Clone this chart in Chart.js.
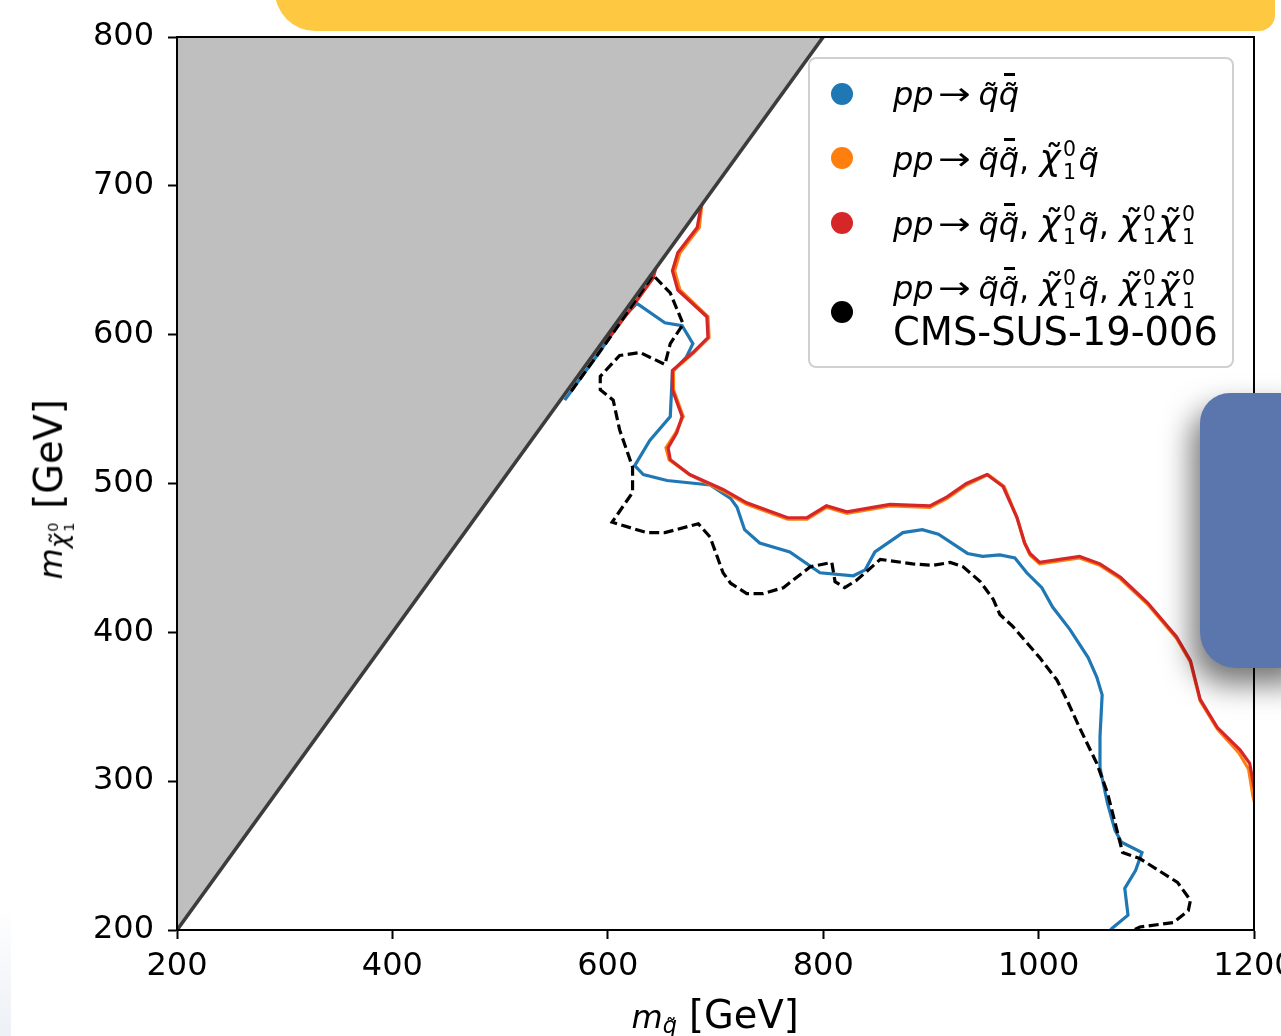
<!DOCTYPE html>
<html lang="en">
<head>
<meta charset="UTF-8">
<title>Squark / neutralino exclusion contours</title>
<script src="https://cdn.jsdelivr.net/npm/chart.js"></script>
<style>
    html, body { margin: 0; padding: 0; background: #fff; }
    body { width: 1281px; height: 1036px; overflow: hidden; position: relative; font-family: 'DejaVu Sans', sans-serif; }
    #wrap { position: absolute; left: 0; top: 0; width: 1320px; height: 1036px; }
    .m { position: absolute; font-family: 'DejaVu Sans'; font-size: 38.4px; line-height: 38px; white-space: nowrap; color: #000; }
    .mt { font-size: 32px; }
    .m i { font-style: italic; }
    .ar { display: inline-block; transform: scaleX(1.22); margin: 0 11px 0 7px; }
    .ac { position: relative; display: inline-block; }
    .ac .t { position: absolute; left: 0.13em; top: 0.06em; font-style: normal; }
    .ac .b { position: absolute; left: 0.16em; width: 0.36em; top: -0.04em; height: 0.09em; background: #000; }
    .ch { font-size: 1.12em; }
    .ch .t { left: 0.16em; top: 0.02em; }
    .ss { display: inline-block; position: relative; width: 0.56em; height: 0; }
    .ss .p, .ss .s { position: absolute; left: 0.12em; font-size: 0.64em; line-height: 1; font-style: normal; }
    .ss .p { bottom: 0.48em; }
    .ss .s { bottom: -0.64em; }
    .sb { font-size: 0.7em; vertical-align: -0.25em; }
    #legend { position: absolute; left: 808px; top: 57px; width: 422px; height: 307px; border: 2px solid #d0d0d0; border-radius: 8px; background: rgba(255,255,255,0.85); }
    .dot { position: absolute; width: 22px; height: 22px; border-radius: 50%; }
    #yellow { position: absolute; left: 275px; top: -40px; width: 1000px; height: 71px; background: #fec940; border-radius: 0 0 16px 40px; }
    #blob { position: absolute; left: 1200px; top: 393px; width: 110px; height: 275px; background: #5a76ad; border-radius: 30px 0 0 36px; box-shadow: -8px 16px 30px rgba(0,0,0,0.55); }
    #fade { position: absolute; left: 0; top: 905px; width: 11px; height: 131px; background: linear-gradient(#ffffff, #edf0f5); }
</style>
</head>
<body>
    <div id="wrap"><canvas id="myChart" width="1320" height="1036"></canvas></div>

    <div id="legend"></div>
    <div class="m" id="xtitle"></div>
    <div class="m" id="ytitle"></div>

    <div id="yellow"></div>
    <div id="blob"></div>
    <div id="fade"></div>

    <script>
        // eixos
        const xTicks = [200, 400, 600, 800, 1000, 1200];
        const yTicks = [200, 300, 400, 500, 600, 700, 800];

        // regiao excluida m_chi > m_q
        const diagMsq  = [200, 800];
        const diagMchi = [200, 800];

        // pp -> qq
        const blueMsq  = [560, 590, 615, 627, 653, 669, 679, 673, 660, 658, 639, 625, 633, 655, 695, 714, 720, 727, 741, 769, 797, 828, 839, 848, 874, 892, 907, 934, 948, 964, 978, 989, 1003, 1013, 1029, 1046, 1054, 1059, 1057, 1057, 1064, 1071, 1077, 1096, 1090, 1080, 1083, 1068, 1063];
        const blueMchi = [556, 586, 612, 621, 608, 606, 594, 585, 575, 545, 529, 512, 506, 502, 499, 490, 484, 469, 460, 454, 440, 438, 442, 454, 467, 469, 466, 453, 451, 452, 450, 440, 430, 417, 402, 383, 370, 358, 330, 309, 285, 267, 259, 252, 240, 228, 210, 201, 197];

        // pp -> qq, chi q
        const orangeMsq  = [597, 620, 642, 650, 688, 685, 667, 662, 667, 693, 694, 680, 661, 661, 670, 663, 654, 657, 676, 707, 729, 748, 767, 785, 803, 822, 846, 862, 899, 915, 933, 953, 968, 980, 987, 992, 1001, 1038, 1057, 1076, 1101, 1128, 1141, 1150, 1166, 1186, 1195, 1199, 1203];
        const orangeMchi = [594, 616, 638, 660, 692, 672, 655, 643, 630, 612, 598, 588, 576, 563, 545, 534, 524, 516, 506, 495, 486, 481, 476, 476, 484, 480, 483, 485, 484, 490, 499, 506, 498, 477, 460, 452, 446, 450, 445, 436, 419, 396, 380, 354, 335, 319, 308, 290, 278];

        // pp -> qq, chi q, chi chi
        const redMsq  = [597, 620, 642, 650, 688, 683, 665, 660, 665, 692, 693, 679, 660, 660, 669, 664, 656, 658, 676, 707, 729, 748, 767, 785, 803, 822, 846, 862, 899, 915, 933, 952, 967, 980, 987, 992, 1001, 1038, 1057, 1076, 1101, 1128, 1141, 1150, 1166, 1187, 1196, 1200, 1205];
        const redMchi = [594, 616, 638, 660, 692, 672, 655, 643, 630, 612, 598, 588, 576, 563, 545, 534, 524, 516, 506, 496, 487, 482, 477, 477, 485, 481, 484, 486, 485, 491, 500, 506, 498, 477, 460, 453, 447, 451, 446, 437, 420, 397, 381, 355, 336, 321, 312, 296, 285];

        // CMS-SUS-19-006
        const cmsMsq  = [566, 600, 642, 658, 670, 658, 653, 630, 611, 593, 593, 605, 611, 623, 623, 604, 636, 653, 684, 695, 707, 714, 729, 744, 763, 788, 808, 811, 820, 831, 853, 883, 902, 918, 930, 946, 958, 964, 976, 1001, 1017, 1026, 1038, 1054, 1064, 1071, 1078, 1094, 1129, 1141, 1139, 1125, 1094, 1085];
        const cmsMchi = [562, 596, 640, 628, 607, 594, 580, 588, 586, 572, 563, 556, 536, 511, 494, 474, 467, 467, 473, 464, 440, 433, 426, 426, 430, 444, 447, 434, 430, 435, 449, 446, 445, 447, 444, 434, 422, 412, 404, 383, 368, 355, 336, 312, 292, 272, 252, 248, 232, 220, 213, 205, 202, 199];

        function pts(xs, ys) {
            return xs.map((x, i) => ({ x: x, y: ys[i] }));
        }

        const frame = {
            id: 'frame',
            afterDatasetsDraw(c) {
                const a = c.chartArea, ctx = c.ctx;
                ctx.save();
                ctx.strokeStyle = '#000';
                ctx.lineWidth = 2;
                ctx.strokeRect(a.left, a.top, a.right - a.left, a.bottom - a.top);
                ctx.restore();
            }
        };

        Chart.defaults.font.family = 'DejaVu Sans';
        Chart.defaults.color = '#000';

        const line = (data, color, order, extra) => Object.assign({
            data: data,
            borderColor: color,
            backgroundColor: color,
            borderWidth: 3.2,
            pointRadius: 0,
            fill: false,
            tension: 0,
            order: order
        }, extra || {});

        const chart = new Chart(document.getElementById('myChart'), {
            type: 'line',
            data: {
                datasets: [
                    line(pts(diagMsq, diagMchi), '#3c3c3c', 0, { fill: 'end', backgroundColor: '#bfbfbf', borderWidth: 3.6 }),
                    line(pts(cmsMsq, cmsMchi), '#000000', 1, { borderDash: [10, 4.5] }),
                    line(pts(redMsq, redMchi), '#d62728', 2),
                    line(pts(orangeMsq, orangeMchi), '#ff7f0e', 3),
                    line(pts(blueMsq, blueMchi), '#1f77b4', 4)
                ]
            },
            plugins: [frame],
            options: {
                responsive: false,
                animation: false,
                events: [],
                layout: { padding: { top: 37, right: 66, left: 0, bottom: 0 } },
                plugins: {
                    legend: { display: false },
                    tooltip: { enabled: false }
                },
                scales: {
                    x: {
                        type: 'linear',
                        min: 200,
                        max: 1200,
                        afterFit(s) { s.height = 106; },
                        afterBuildTicks(s) { s.ticks = xTicks.map(v => ({ value: v })); },
                        ticks: { font: { size: 32 }, padding: 8, maxRotation: 0, callback: v => String(v) },
                        grid: { drawOnChartArea: false, color: '#000', tickLength: 9, tickWidth: 2 },
                        border: { color: '#000', width: 2 }
                    },
                    y: {
                        type: 'linear',
                        min: 200,
                        max: 800,
                        afterFit(s) { s.width = 177; },
                        afterBuildTicks(s) { s.ticks = yTicks.map(v => ({ value: v })); },
                        ticks: { font: { size: 32 }, padding: 14, callback: v => String(v) },
                        grid: { drawOnChartArea: false, color: '#000', tickLength: 9, tickWidth: 2 },
                        border: { color: '#000', width: 2 }
                    }
                }
            }
        });

        // textos em notacao matematica
        const Q = '<span class="ac"><i>q</i><span class="t">˜</span></span>';
        const QB = '<span class="ac"><i>q</i><span class="t">˜</span><span class="b"></span></span>';
        const CHI = '<span class="ac ch"><i>χ</i><span class="t">˜</span></span><span class="ss"><span class="p">0</span><span class="s">1</span></span>';
        const PP = '<i>pp</i><span class="ar">→</span>';
        const math = s => '<span class="mt">' + s + '</span>';

        const legendColors = ['#1f77b4', '#ff7f0e', '#d62728', '#000000'];
        const legendDotY = [94, 158, 223, 312];
        const legendRows = [
            { base: 105, html: math(PP + Q + QB) },
            { base: 170, html: math(PP + Q + QB + ', ' + CHI + Q) },
            { base: 235, html: math(PP + Q + QB + ', ' + CHI + Q + ', ' + CHI + CHI) },
            { base: 299, html: math(PP + Q + QB + ', ' + CHI + Q + ', ' + CHI + CHI) },
            { base: 345, html: 'CMS-SUS-19-006' }
        ];

        const legend = document.getElementById('legend');
        const lx = 808 + 2, ly = 57 + 2;
        const baseOff = 32.3;
        legendColors.forEach((c, i) => {
            const d = document.createElement('span');
            d.className = 'dot';
            d.style.background = c;
            d.style.left = (842 - 11 - lx) + 'px';
            d.style.top = (legendDotY[i] - 11 - ly) + 'px';
            legend.appendChild(d);
        });
        legendRows.forEach(r => {
            const d = document.createElement('div');
            d.className = 'm';
            d.innerHTML = r.html;
            d.style.left = (893 - lx) + 'px';
            d.style.top = (r.base - baseOff - ly) + 'px';
            legend.appendChild(d);
        });

        const xt = document.getElementById('xtitle');
        xt.innerHTML = math('<i>m</i><span class="sb">' + Q + '</span>') + ' [GeV]';
        xt.style.left = (715 - xt.offsetWidth / 2) + 'px';
        xt.style.top = (1028 - baseOff) + 'px';

        const yt = document.getElementById('ytitle');
        yt.innerHTML = math('<i>m</i><span class="sb">' + CHI + '</span>') + ' [GeV]';
        const w = yt.offsetWidth;
        yt.style.left = (54 - w / 2) + 'px';
        yt.style.top = (484 - 19) + 'px';
        yt.style.transform = 'rotate(-90deg)';
        yt.style.transformOrigin = '50% 50%';
    </script>
</body>
</html>
